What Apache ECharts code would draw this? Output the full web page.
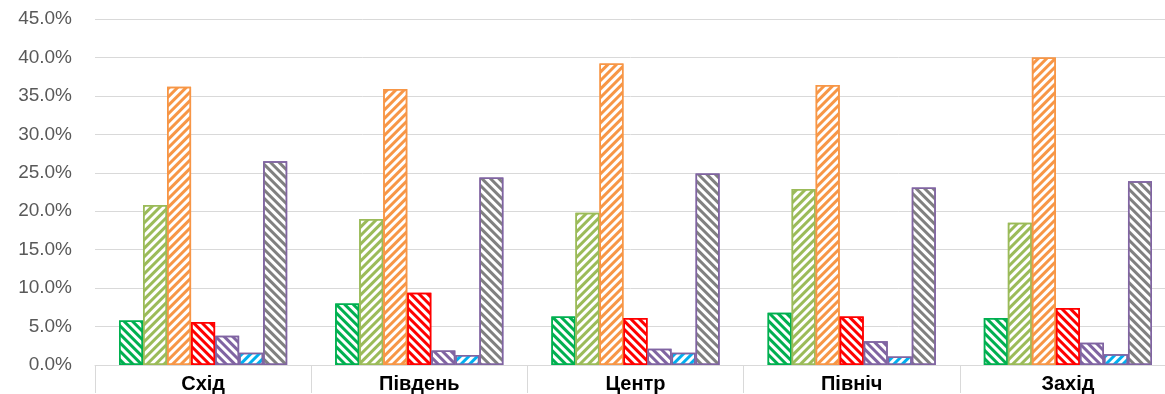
<!DOCTYPE html>
<html>
<head>
<meta charset="utf-8">
<script src="https://cdn.jsdelivr.net/npm/echarts@6/dist/echarts.min.js"></script>
<style>
html,body{margin:0;padding:0;background:#fff;}
#chart{width:1165px;height:394px;}
</style>
</head>
<body>
<div id="chart"></div>
<script>
const categories = ['Схід', 'Південь', 'Центр', 'Північ', 'Захід'];
const yTicks = [0, 5, 10, 15, 20, 25, 30, 35, 40, 45];

const series1 = [5.8, 8.0, 6.3, 6.8, 6.1];
const series2 = [20.8, 19.0, 19.8, 22.9, 18.5];
const series3 = [36.2, 35.9, 39.2, 36.4, 40.0];
const series4 = [5.6, 9.4, 6.1, 6.3, 7.4];
const series5 = [3.8, 1.9, 2.1, 3.1, 2.9];
const series6 = [1.6, 1.3, 1.6, 1.1, 1.4];
const series7 = [26.5, 24.4, 24.9, 23.1, 23.9];

const seriesNames = ['Ряд 1', 'Ряд 2', 'Ряд 3', 'Ряд 4', 'Ряд 5', 'Ряд 6', 'Ряд 7'];
const seriesData = [series1, series2, series3, series4, series5, series6, series7];
const stripeColors = ['#00B050', '#9BBB59', '#F79646', '#FF0000', '#8064A2', '#00B0F0', '#808080'];
const borderColors = ['#00B050', '#9BBB59', '#F79646', '#FF0000', '#8064A2', '#8064A2', '#8064A2'];
const directions = [1, -1, -1, 1, 1, -1, 1];

const chart = echarts.init(document.getElementById('chart'), null, {renderer: 'canvas'});

const series = seriesData.map((d, i) => ({
  name: seriesNames[i],
  type: 'bar',
  data: d,
  barGap: '0%',
  barCategoryGap: '22.2%',
  itemStyle: {
    color: '#ffffff',
    borderColor: borderColors[i],
    borderWidth: 1.5,
    decal: {
      symbol: 'rect',
      symbolSize: 1,
      symbolKeepAspect: false,
      color: stripeColors[i],
      backgroundColor: 'rgba(0,0,0,0)',
      dashArrayX: [1, 0],
      dashArrayY: [3, 3],
      rotation: directions[i] * Math.PI / 4,
      maxTileWidth: 512,
      maxTileHeight: 512
    }
  },
  emphasis: {disabled: true}
}));

chart.setOption({
  animation: false,
  aria: {enabled: true, decal: {show: true}},
  grid: {left: 95, top: 19, bottom: 29, width: 1081, containLabel: false, outerBoundsMode: 'none'},
  xAxis: {
    type: 'category',
    data: categories,
    axisLine: {show: true, lineStyle: {color: '#D9D9D9', width: 1}},
    axisTick: {show: true, length: 28, alignWithLabel: false, lineStyle: {color: '#D9D9D9', width: 1}},
    axisLabel: {
      color: '#000000',
      fontWeight: 'bold',
      fontSize: 20,
      fontFamily: 'Liberation Sans, Arial, sans-serif',
      margin: 9
    }
  },
  yAxis: {
    type: 'value',
    min: yTicks[0],
    max: yTicks[yTicks.length - 1],
    interval: 5,
    axisLine: {show: false},
    axisTick: {show: false},
    splitLine: {show: true, lineStyle: {color: '#D9D9D9', width: 1}},
    axisLabel: {
      color: '#595959',
      fontSize: 19,
      fontFamily: 'Liberation Sans, Arial, sans-serif',
      margin: 23,
      formatter: v => v.toFixed(1) + '%'
    }
  },
  series: series
});
</script>
</body>
</html>
